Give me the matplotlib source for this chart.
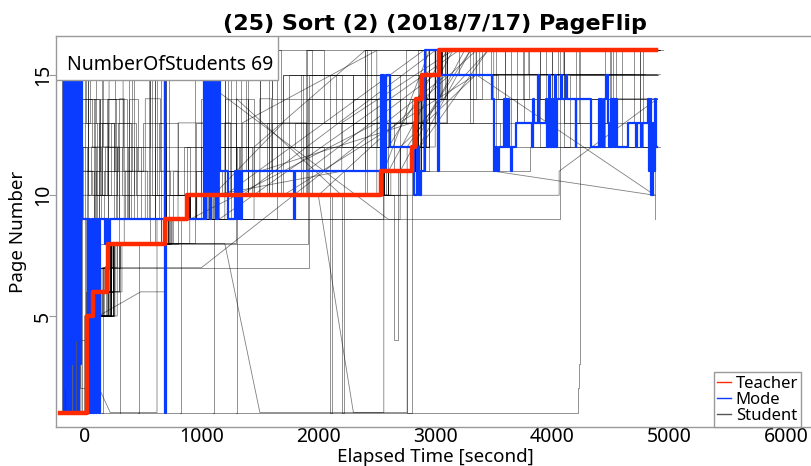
import matplotlib
matplotlib.use("Agg")
import matplotlib.pyplot as plt
from matplotlib.lines import Line2D
from matplotlib.patches import Rectangle

plt.rcParams['font.family'] = ['Noto Sans', 'DejaVu Sans']

title = "(25) Sort (2) (2018/7/17) PageFlip"
n_students = 69

# teacher page (step, post)
teacher_t = [-210, 25, 76, 195, 204, 688, 875, 2532, 2804, 2829, 2832, 2889, 3033, 4885]
teacher_p = [1, 5, 6, 7, 8, 9, 10, 11, 12, 13, 14, 15, 16, 16]

# mode of students' pages, "time page" pairs
mode = ("-185 15, -178 1, -172 15, -165 2, -158 15, -150 1, -143 15, -136 4, -128 15, -120 1, "
        "-112 15, -104 3, -96 15, -88 1, -80 15, -72 4, -64 15, -56 1, -48 15, -40 3, -32 15, -25 9, "
        "30 1, 40 9, 50 1, 60 9, 70 1, 80 9, 95 1, 110 9, 120 1, 135 9, 175 8, 185 9, 200 8, 215 9, "
        "685 15, 690 1, 697 9, 1020 15, 1030 9, 1040 15, 1050 10, 1060 15, 1075 9, 1085 15, 1100 10, "
        "1110 15, 1125 9, 1140 15, 1160 11, 1230 9, 1290 11, 1300 9, 1310 11, 1330 9, 1345 11, 1790 9, 1800 11, "
        "2535 15, 2545 10, 2555 15, 2565 11, 2575 15, 2610 12, 2820 10, 2840 12, 2860 10, 2880 11, 2915 16, "
        "3025 11, 3030 15, 3483 14, 3505 11, 3515 12, 3530 11, 3545 12, 3585 14, 3595 12, 3605 14, 3615 12, "
        "3625 14, 3635 12, 3650 11, 3660 12, 3690 13, 3825 12, 3835 14, 3845 13, 3880 15, 3890 13, 3950 14, "
        "3960 12, 3975 15, 3985 12, 4000 14, 4010 12, 4025 15, 4035 12, 4045 14, 4075 15, 4085 14, 4115 15, "
        "4125 14, 4200 12, 4205 14, 4330 12, 4400 14, 4410 12, 4420 14, 4430 12, 4440 14, 4465 15, 4475 13, "
        "4490 12, 4500 14, 4510 12, 4520 14, 4535 12, 4545 14, 4555 12, 4650 13, 4720 12, 4730 13, 4760 12, "
        "4770 13, 4820 14, 4830 11, 4840 14, 4850 10, 4860 13, 4870 11, 4880 14, 4890 12, 4900 12")

# student logs, "time page" pairs; "~" = no log in between (straight line)
students = [
    "60 1, 65 5, 90 6, 196 7, 206 8, 690 9, 878 10, 2535 11, 2806 12, 2831 13, 2846 14, 2891 15, 3035 16, 4890 16",
    "-190 1, -185 15, -175 1, 35 5, 100 6, 205 8, 700 9, 890 10, 2550 11, 2835 12, 2870 14, 2920 15, 3060 16, 4900 16",
    "-180 1, -170 9, -160 15, -150 9, -130 1, 45 5, 110 6, 215 8, 695 9, 1020 15, 1060 10, 2560 11, 2850 13, 2860 15, 3100 16, 4910 16",
    "-175 1, -120 4, -100 1, 60 5, 130 6, 260 8, 300 14, 340 8, 705 9, 950 10, 1900 16, 1950 10, 2600 11, ~3150 16, 4880 16",
    "-160 1, -150 12, -145 1, 30 5, 170 7, 250 8, 720 9, 1100 10, ~2200 11, 2700 12, ~3350 15, 4925 15",
    "-150 1, 20 3, 40 5, 60 9, 80 14, 120 9, 130 6, 240 8, 730 9, 900 10, 1250 11, 1300 10, 2580 11, 2900 14, 3000 16, 4900 16",
    "-140 1, -60 9, -40 1, 70 5, 150 7, 280 8, 690 9, 1200 13, 1250 10, 2620 11, 2860 12, ~3300 16, 4895 16",
    "-130 1, -100 15, -80 9, -70 1, 90 6, 230 8, 740 9, 880 10, 1400 14, 1450 10, 2540 11, 2880 14, 3080 16, 4950 16",
    "-120 1, 40 2, 60 5, 140 6, 300 8, 760 9, 960 10, 1500 11, ~2800 13, 2950 15, 4800 15",
    "-110 1, 10 4, 50 5, 100 7, 210 8, 680 9, 880 10, 1580 16, 4890 16",
    "-100 1, 25 5, 180 8, 560 15, 600 8, 700 9, 1010 10, 1700 15, 3540 14, 4900 14",
    "-90 1, 15 6, 120 8, 650 9, 880 10, 1300 12, 1330 10, 2700 12, 2950 13, 3550 12, 4920 12",
    "-200 1, 50 5, 230 8, 800 9, 1150 10, 1600 13, 4880 13",
    "-195 1, 4215 1, 4220 2, 4230 3, 4240 16, 4900 16",
    "-185 1, 60 5, 200 8, 690 9, 4060 9, 4065 16, 4900 16",
    "-170 1, 40 5, 210 8, 700 9, 900 10, 4050 10, 4060 11, ~4900 14",
    "-165 1, 35 5, 215 8, 710 9, 880 10, 1180 11, 3800 11, 3810 12, 4900 12",
    "-160 1, 55 5, 240 8, 1905 8, 1910 14, 4900 14",
    "-155 1, 60 5, 120 7, 1915 7, 1920 15, 4905 15",
    "-150 1, 30 5, 230 8, 700 9, 1150 9, ~3200 16, 4870 16",
    "-145 1, 60 5, 250 8, 720 9, 880 10, 1350 10, ~3000 16, 4860 16",
    "-140 1, 40 5, 200 7, 1000 7, ~3100 15, 3380 16, 4900 16",
    "-135 1, 90 6, 300 8, 900 10, 2000 10, ~3350 16, 4890 16",
    "-130 1, 0 5, 30 9, 50 1, 100 5, 260 8, 700 9, 1050 11, 1060 9, 2560 11, ~2950 16, 4880 16",
    "-120 1, 40 5, 230 8, 690 9, 880 10, 900 9, ~2500 13, 2850 14, 3000 16, 4900 16",
    "-115 1, 70 6, 220 8, 950 15, ~2600 9, 2700 11, ~3250 16, 4850 16",
    "-110 1, 50 5, 160 7, 240 8, 1300 14, ~2200 10, 2560 11, 2880 13, ~3450 16, 4920 16",
    "-105 1, 100 5, 280 8, 700 9, 1450 12, ~2400 16, 2500 10, 2600 12, ~3100 16, 4900 16",
    "-100 1, 120 6, 320 8, 750 9, 1100 10, ~1700 13, 1900 11, ~3000 15, 4700 15",
    "-100 1, 30 3, ~220 1, 600 1, 620 9, 880 10, 1200 10, ~2900 16, 4900 16",
    "-95 1, 60 4, 120 5, ~480 6, 700 9, 880 10, 2600 11, 2850 13, 3100 16, 4880 16",
    "-90 1, 80 5, 250 8, 1200 8, ~1500 1, 2550 1, 2560 11, 2900 15, 3050 16, 4900 16",
    "-85 1, 100 5, 200 8, 720 9, 900 10, 2000 10, ~2300 1, 2750 1, 2760 12, ~3300 16, 4870 16",
    "-80 1, 60 5, 230 8, 700 9, 950 10, 2750 10, 2760 1, 2800 12, 2900 14, 3050 16, 4900 16",
    "-200 1, -195 15, -190 1, -100 9, -90 1, 20 5, 95 6, 200 8, 700 9, 880 10, 2540 11, 2820 12, 2900 15, 3050 16, 4900 16",
    "-180 1, -175 14, -165 1, -50 15, -40 2, 40 5, 130 7, 300 8, 680 9, 1040 15, 1080 10, 1340 15, 1380 11, 2600 11, 2880 14, 3060 16, 4880 16",
    "-170 1, -80 15, -60 4, 0 1, 90 6, 200 8, 650 15, 700 9, 880 10, 1200 15, 1230 10, 2550 11, 2840 12, 2880 15, 3040 16, 4900 16",
    "-160 1, -130 15, -110 1, 50 5, 110 7, 220 8, 700 9, 880 10, 1100 11, 1130 10, 2560 11, 2830 12, 2920 16, 4300 16",
    "-150 1, -140 15, -120 9, 80 9, 90 5, 150 6, 240 8, 700 9, 880 10, 2560 11, 2850 14, 3040 16, 4900 16",
    "-140 1, 40 5, 230 8, 700 9, 900 10, 2600 11, 2900 14, 3000 16, 3520 12, 3600 16, 3900 12, 3950 14, 4400 12, 4450 16, 4900 16",
    "-130 1, 50 5, 240 8, 720 9, 880 10, 2560 11, 2850 13, 2950 16, 3300 13, 3320 16, 3750 14, 3800 16, 4200 13, 4230 16, 4750 12, 4780 16, 4900 16",
    "-120 1, 60 5, 250 8, 700 9, 880 10, 2560 11, 2900 15, 3050 16, 3480 14, 3700 13, 4000 16, 4100 13, 4550 16, 4600 12, 4880 9",
    "-110 1, 30 5, 220 8, 700 9, 880 10, 2560 11, 2870 12, ~3450 16, 3800 15, 4100 16, 4500 14, 4900 14",
    "-100 1, 80 5, 230 8, 700 9, 900 10, 2600 11, 2830 12, 3000 16, 3350 15, ~4880 10",
    "-90 1, 50 5, 220 8, 690 9, 880 10, 1700 10, ~3350 15, 3500 11, ~4880 10",
    "-200 1, 40 5, 200 8, 700 9, 880 10, 1650 16, 1680 10, 2200 1, 2220 11, 2560 11, 2850 12, 2900 15, 3050 16, 4900 16",
    "-190 1, 60 5, 230 8, 700 9, 880 10, 1850 15, 1870 10, 2650 4, 2680 11, 2830 12, 2920 15, 3080 16, 4900 16",
    "-200 1, -150 10, -100 13, -40 12, 20 11, 80 9, 200 12, 320 10, 700 9, 900 10, 1200 14, 1400 11, 2560 11, 2880 14, 3100 16, 4900 16",
    "-190 1, -160 11, -90 14, -30 15, 30 10, 150 13, 250 9, 450 12, 700 9, 880 10, 1300 15, 1500 12, 2600 12, 2900 15, 3200 16, 4880 16",
    "-185 1, -170 13, -110 10, -50 14, 60 12, 140 9, 350 11, 500 13, 700 9, 1000 12, 1250 16, 1600 14, 2700 13, 3000 16, 4900 16",
    "-175 1, -140 9, -80 12, 0 15, 100 13, 200 10, 420 15, 600 9, 900 10, 1150 13, 1700 15, 2200 12, 2800 14, 3100 16, 3700 13, 3760 16, 4900 16",
    "-165 1, -130 14, -20 11, 70 10, 180 12, 300 9, 520 14, 650 11, 800 10, 1350 13, ~2500 16, 3500 15, 4900 15",
    "-155 1, -100 12, -10 9, 100 11, 260 15, 380 9, 700 10, 1000 14, 1100 11, 2300 14, 2500 12, 2950 16, 4000 14, 4050 16, 4900 16",
    "-145 1, -90 15, 10 13, 110 9, 200 14, 330 12, 480 9, 760 11, 1020 9, 1250 12, 1900 16, 2050 13, 3000 13, 3100 16, 4890 16",
    "-135 1, -70 11, 30 14, 130 10, 230 13, 400 9, 550 15, 620 10, 880 12, 1400 10, 2100 15, 2300 11, 2600 11, 2900 15, 3300 14, 3350 16, 4900 16",
    "-125 1, -60 13, 50 15, 160 12, 280 9, 380 14, 460 11, 730 10, 1150 15, 1200 12, 1800 13, 2400 16, 2450 12, 2950 14, 3400 16, 4500 12, 4520 16, 4920 16",
    "-115 1, -30 10, 60 12, 210 15, 330 11, 540 9, 800 13, 1060 10, 1500 14, 1600 11, 2200 13, ~3150 16, 4900 16",
    "-105 1, -20 14, 90 9, 170 11, 290 13, 440 10, 680 15, 720 9, 950 11, 1300 9, 1650 12, 2050 11, 2650 13, 2850 16, 4100 12, 4150 15, 4900 15",
    "-95 1, 0 12, 100 10, 190 14, 360 9, 600 12, 900 10, 1100 15, 1500 13, 2400 14, 2950 16, 3900 14, 3950 16, 4880 16",
    "-75 1, 10 9, 120 13, 250 11, 410 15, 580 10, 850 12, 1200 11, 1750 15, 2150 13, 2600 12, 2900 16, 3600 12, 3650 16, 4900 16",
    "-65 1, 20 11, 130 14, 270 9, 370 12, 560 15, 700 9, 950 13, 1300 10, 1900 12, 2300 15, 2700 11, 2950 15, 3050 16, 4870 16",
    "-55 1, 30 15, 150 10, 280 12, 420 9, 640 13, 800 10, 1080 12, 1400 16, 1600 11, 2400 13, 2750 16, 4700 13, 4750 16, 4900 16",
    "300 1, 305 8, 700 9, 880 10, 1560 13, 1580 10, 2550 11, 2840 12, 2900 15, 3040 16, 4900 16",
    "150 1, 155 7, 220 8, 690 9, 880 10, 1400 12, 1430 10, 2560 11, 2850 13, 2900 15, 3060 16, 4880 16",
    "460 1, 465 8, 700 9, 880 10, 2400 16, 2420 10, 2540 11, 2840 13, 2890 15, 3050 16, 4920 16",
    "820 1, 825 9, 880 10, 2100 1, 2120 10, 2560 11, 2830 12, 2900 15, 3050 16, 4900 16",
    "1100 1, 1105 10, 2560 11, 2830 13, 2900 15, 3040 16, 4900 16",
    "1300 1, 1305 12, 1320 10, 2560 11, 2850 14, 2950 15, 3050 16, 4900 16",
]


def parse(s):
    xs, ys = [], []
    for tok in s.split(','):
        tok = tok.strip()
        diag = tok.startswith('~')
        t, p = tok.lstrip('~').split()
        t, p = float(t), float(p)
        if xs and not diag:
            xs.append(t)
            ys.append(ys[-1])
        xs.append(t)
        ys.append(p)
    return xs, ys


fig = plt.figure(figsize=(8.11, 4.66), dpi=100)
ax = fig.add_axes([56/811, 39/466, 794/811, 391/466])

for s in students:
    x, y = parse(s)
    ax.plot(x, y, color='black', lw=0.6, alpha=0.5)

mx, my = parse(mode)
ax.plot(mx, my, color='#0a3cff', lw=1.6)
ax.step(teacher_t, teacher_p, where='post', color='#ff2a00', lw=3.2)

ax.set_xlim(-244, 6548)
ax.set_ylim(0.4, 16.6)
ax.set_xticks([0, 1000, 2000, 3000, 4000, 5000, 6000])
ax.set_yticks([5, 10, 15])
ax.set_yticklabels(['5', '10', '15'], rotation=90, va='center')
ax.tick_params(axis='x', length=0, pad=0, labelsize=14)
ax.tick_params(axis='y', length=5, color='#999999', pad=-3, labelsize=14)
for side in ['left', 'bottom', 'top', 'right']:
    ax.spines[side].set_color('#999999')
    ax.spines[side].set_linewidth(1)

# NumberOfStudents box
ax.add_patch(Rectangle((0, 0.8875), 0.2796, 0.1125, transform=ax.transAxes,
                       facecolor='white', edgecolor='#999999', lw=1, zorder=5))
ax.text(11/794, (427-70)/391, "NumberOfStudents %d" % n_students, transform=ax.transAxes,
        fontsize=14, ha='left', va='baseline', zorder=6)

fig.text(435/811, 1 - 30/466, title, ha='center', va='baseline', fontsize=16,
         fontweight='bold', family=['DejaVu Sans'])
fig.text(435/811, 1 - 462/466, "Elapsed Time [second]", ha='center', va='baseline', fontsize=13.5)
fig.text(18/811, 1 - 232/466, "Page Number", ha='center', va='center', rotation=90, fontsize=13.5)

handles = [Line2D([], [], color='#ff2a00', lw=1),
           Line2D([], [], color='#0a3cff', lw=1),
           Line2D([], [], color='#555555', lw=1)]
leg = fig.legend(handles, ['Teacher', 'Mode', 'Student'], loc='lower left',
                 bbox_to_anchor=(714/811, 39/466), borderaxespad=0, fontsize=12,
                 handlelength=0.8, handletextpad=0.3, labelspacing=0.0, borderpad=0.2,
                 fancybox=False, framealpha=1, edgecolor='#999999')
leg.get_frame().set_linewidth(1)

fig.savefig('out.png', dpi=100)
